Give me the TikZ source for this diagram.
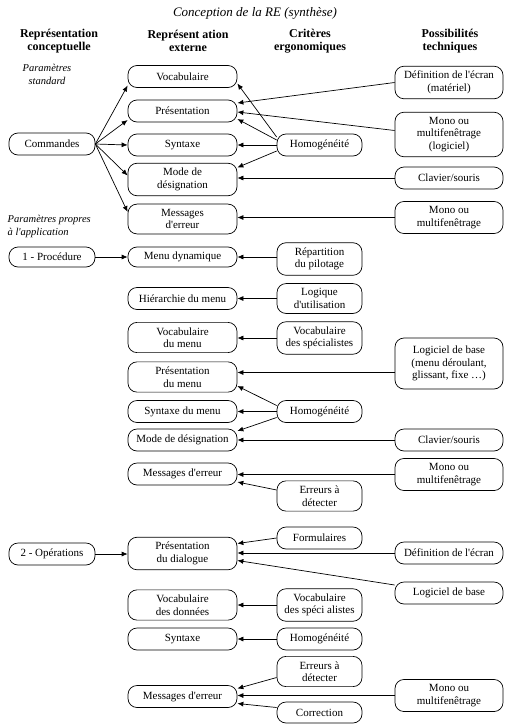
\documentclass[tikz,border=0pt]{standalone}
\usepackage{fontspec}
\setmainfont{Liberation Serif}[Ligatures=TeXOff]
\usetikzlibrary{arrows.meta}

\begin{document}
\begin{tikzpicture}[
    x=1pt, y=-1pt,
    line width=0.7pt,
    every node/.style={font=\fontsize{11}{12.5}\selectfont},
    box/.style={rectangle, draw, rounded corners=9pt, minimum height=22pt, inner xsep=1pt, inner ysep=5pt, align=center},
    concept/.style={box, minimum width=86pt},
    extern/.style={box, minimum width=109pt},
    ergo/.style={box, minimum width=85pt},
    tech/.style={box, minimum width=108pt},
    head/.style={align=center, font=\fontsize{12}{12.5}\selectfont\bfseries},
    note/.style={align=center, font=\fontsize{10.5}{13}\selectfont\itshape},
    >={Latex[length=6pt, width=5pt]},
]
\useasboundingbox (0,0) rectangle (507,726);

\node[font=\fontsize{13}{15}\selectfont\itshape] (title) at (255,13) {Conception de la RE (synthèse)};
\node[head] (hconc) at (59,41) {Représentation\\conceptuelle};
\node[head] (hext) at (188,41) {Représent ation\\externe};
\node[head] (hergo) at (310,41) {Critères\\ergonomiques};
\node[head] (htech) at (450,41) {Possibilités\\techniques};
\node[note] (pstd) at (47,74) {Paramètres\\standard};
\node[note, align=left, anchor=west] (papp) at (4,226) {Paramètres propres\\à l'application};

\node[concept] (cmd) at (52,144) {Commandes};
\node[extern] (voc) at (182.5,76.5) {Vocabulaire};
\node[extern] (pres) at (182.5,111) {Présentation};
\node[extern] (syn) at (182.5,145) {Syntaxe};
\node[extern] (mode) at (182.5,179.5) {Mode de\\désignation};
\node[extern] (msg) at (182.5,219) {Messages\\d'erreur};
\node[ergo] (homA) at (319.5,145) {Homogénéité};
\node[tech] (defA) at (449,82.5) {Définition de l'écran\\(matériel)};
\node[tech] (monoA) at (449,134.5) {Mono ou\\multifenêtrage\\(logiciel)};
\node[tech] (clavA) at (449,178) {Clavier/souris};
\node[tech] (monoB) at (449,217.5) {Mono ou\\multifenêtrage};

\node[concept, minimum height=20pt] (proc) at (52,257) {1 - Procédure};
\node[extern, minimum height=20pt] (mdyn) at (182.5,257) {Menu dynamique};
\node[ergo] (rep) at (319.5,259) {Répartition\\du pilotage};
\node[extern] (hier) at (182.5,298.5) {Hiérarchie du menu};
\node[ergo] (logi) at (319.5,298.5) {Logique\\d'utilisation};
\node[extern] (vmen) at (182.5,337.5) {Vocabulaire\\du menu};
\node[ergo] (vspA) at (319.5,338) {Vocabulaire\\des spécialistes};
\node[tech, minimum height=51pt] (logB) at (449,363.5) {Logiciel de base\\(menu déroulant,\\glissant, fixe …)};
\node[extern] (pmen) at (182.5,377) {Présentation\\du menu};
\node[extern] (smen) at (182.5,411.5) {Syntaxe du menu};
\node[ergo] (homB) at (319.5,411.5) {Homogénéité};
\node[extern] (dmen) at (182.5,440) {Mode de désignation};
\node[tech] (clavB) at (449,440) {Clavier/souris};
\node[extern] (msgB) at (182.5,474) {Messages d'erreur};
\node[tech] (monoC) at (449,474.5) {Mono ou\\multifenêtrage};
\node[ergo] (errA) at (319.5,496) {Erreurs à\\détecter};

\node[concept] (ops) at (52,554) {2 - Opérations};
\node[extern] (pdia) at (182.5,553.5) {Présentation\\du dialogue};
\node[ergo] (form) at (319.5,538) {Formulaires};
\node[tech] (defB) at (449,553) {Définition de l'écran};
\node[tech] (logC) at (449,593) {Logiciel de base};
\node[extern] (vdon) at (182.5,605) {Vocabulaire\\des données};
\node[ergo] (vspB) at (319.5,605) {Vocabulaire\\des spéci alistes};
\node[extern] (synB) at (182.5,639) {Syntaxe};
\node[ergo] (homC) at (319.5,639) {Homogénéité};
\node[ergo] (errB) at (319.5,671.5) {Erreurs à\\détecter};
\node[extern] (msgC) at (182.5,696.5) {Messages d'erreur};
\node[tech] (monoD) at (449,695.5) {Mono ou\\multifenêtrage};
\node[ergo, minimum height=21pt] (corr) at (319.5,712.5) {Correction};

\draw[->] (cmd.east) -- ([yshift=-9pt]voc.west);
\draw[->] (cmd.east) -- ([yshift=-9pt]pres.west);
\draw[->] (cmd.east) -- (syn.west);
\draw[->] (cmd.east) -- ([yshift=4pt]mode.west);
\draw[->] (cmd.east) -- ([yshift=7pt]msg.west);
\draw[->] ([yshift=8pt]homA.west) -- ([yshift=-7pt]voc.east);
\draw[->] ([yshift=5pt]homA.west) -- ([yshift=-8pt]pres.east);
\draw[->] (homA.west) -- (syn.east);
\draw[->] ([yshift=-6pt]homA.west) -- ([yshift=12pt]mode.east);
\draw[->] (defA.west) -- ([yshift=8pt]pres.east);
\draw[->] ([yshift=4pt]monoA.west) -- ([yshift=-1pt]pres.east);
\draw[->] (clavA.west) -- (mode.east |- clavA.west);
\draw[->] (monoB.west) -- (msg.east |- monoB.west);

\draw[->] (proc.east) -- (mdyn.west);
\draw[->] (rep.west |- mdyn) -- (mdyn.east);
\draw[->] (logi.west) -- (hier.east);
\draw[->] (vspA.west) -- (vmen.east |- vspA.west);
\draw[->] ([yshift=-9pt]logB.west) -- ([yshift=4.5pt]pmen.east);
\draw[->] ([yshift=6pt]homB.west) -- ([yshift=-9pt]pmen.east);
\draw[->] (homB.west) -- (smen.east);
\draw[->] ([yshift=-6pt]homB.west) -- ([yshift=9pt]dmen.east);
\draw[->] (clavB.west) -- (dmen.east);
\draw[->] (monoC.west) -- (msgB.east |- monoC.west);
\draw[->] ([yshift=6pt]errA.west) -- ([yshift=-8pt]msgB.east);

\draw[->] (ops.east) -- (pdia.west |- ops.east);
\draw[->] (form.west) -- ([yshift=10pt]pdia.east);
\draw[->] (defB.west) -- (pdia.east |- defB.west);
\draw[->] ([yshift=8pt]logC.west) -- ([yshift=-7pt]pdia.east);
\draw[->] (vspB.west) -- (vdon.east);
\draw[->] (homC.west) -- (synB.east);
\draw[->] ([yshift=-6pt]errB.west) -- ([yshift=8pt]msgC.east);
\draw[->] (monoD.west) -- (msgC.east |- monoD.west);
\draw[->] ([yshift=5pt]corr.west) -- ([yshift=-7pt]msgC.east);
\end{tikzpicture}
\end{document}
